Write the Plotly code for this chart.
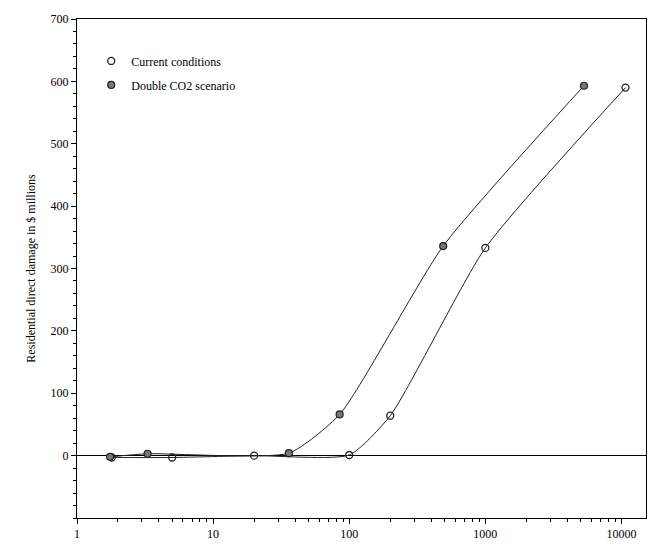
import plotly.graph_objects as go

# Data (return period vs damage)
current_x = [1.8, 5, 20, 100, 200, 1000, 10700]
current_y = [-3, -3, 0, 1, 64, 333, 590]
double_x = [1.75, 3.3, 36, 85, 490, 5300]
double_y = [-2, 3, 4, 66, 336, 593]

x_tickvals = [1, 10, 100, 1000, 10000]
x_ticktext = ["1", "10", "100", "1000", "10000"]
x_minor = [m * 10 ** k for k in range(0, 5) for m in range(2, 10)]
y_tickvals = [0, 100, 200, 300, 400, 500, 600, 700]

serif = "Liberation Serif, Times New Roman, serif"
open_marker = dict(symbol="circle-open", size=7, color="#222", line=dict(width=1.3))
fill_marker = dict(symbol="circle", size=7, color="#777", line=dict(color="#222", width=1.2))

fig = go.Figure()
fig.add_trace(go.Scatter(
    x=current_x, y=current_y, mode="lines+markers", showlegend=False,
    line=dict(color="#222", width=1, shape="spline", smoothing=0.55),
    marker=open_marker,
))
fig.add_trace(go.Scatter(
    x=double_x, y=double_y, mode="lines+markers", showlegend=False,
    line=dict(color="#222", width=1, shape="spline", smoothing=0.55),
    marker=fill_marker,
))
# legend entries (marker only)
fig.add_trace(go.Scatter(x=[None], y=[None], mode="markers", name="Current conditions",
                         marker=open_marker, legendgroup="a"))
fig.add_trace(go.Scatter(x=[None], y=[None], mode="markers", name="Double CO2 scenario",
                         marker=fill_marker, legendgroup="b"))

fig.update_layout(
    width=661, height=558,
    margin=dict(l=77, r=15, t=15, b=40),
    paper_bgcolor="white", plot_bgcolor="white",
    font=dict(family=serif, size=12, color="black"),
    showlegend=True,
    legend=dict(x=0.025, y=0.945, xanchor="left", yanchor="top",
                bgcolor="rgba(0,0,0,0)", font=dict(family=serif, size=12),
                tracegroupgap=5),
)
fig.update_xaxes(
    type="log", range=[0, 4.18],
    tickvals=x_tickvals, ticktext=x_ticktext,
    showgrid=False, showline=True, linecolor="black", linewidth=1, mirror=True,
    ticks="outside", ticklen=5, tickcolor="black",
    minor=dict(tickvals=x_minor, ticks="outside", ticklen=3, tickcolor="black", showgrid=False),
    tickfont=dict(family=serif, size=12),
    zeroline=False,
)
fig.update_yaxes(
    range=[-100, 700], tickvals=y_tickvals,
    showgrid=False, showline=True, linecolor="black", linewidth=1, mirror=True,
    ticks="outside", ticklen=5, tickcolor="black",
    minor=dict(dtick=20, ticks="outside", ticklen=3, tickcolor="black", showgrid=False),
    zeroline=True, zerolinecolor="black", zerolinewidth=1,
    tickfont=dict(family=serif, size=12),
    title=dict(text="Residential direct damage in $ millions", font=dict(family=serif, size=12), standoff=12),
)

fig.write_html("out.html")
